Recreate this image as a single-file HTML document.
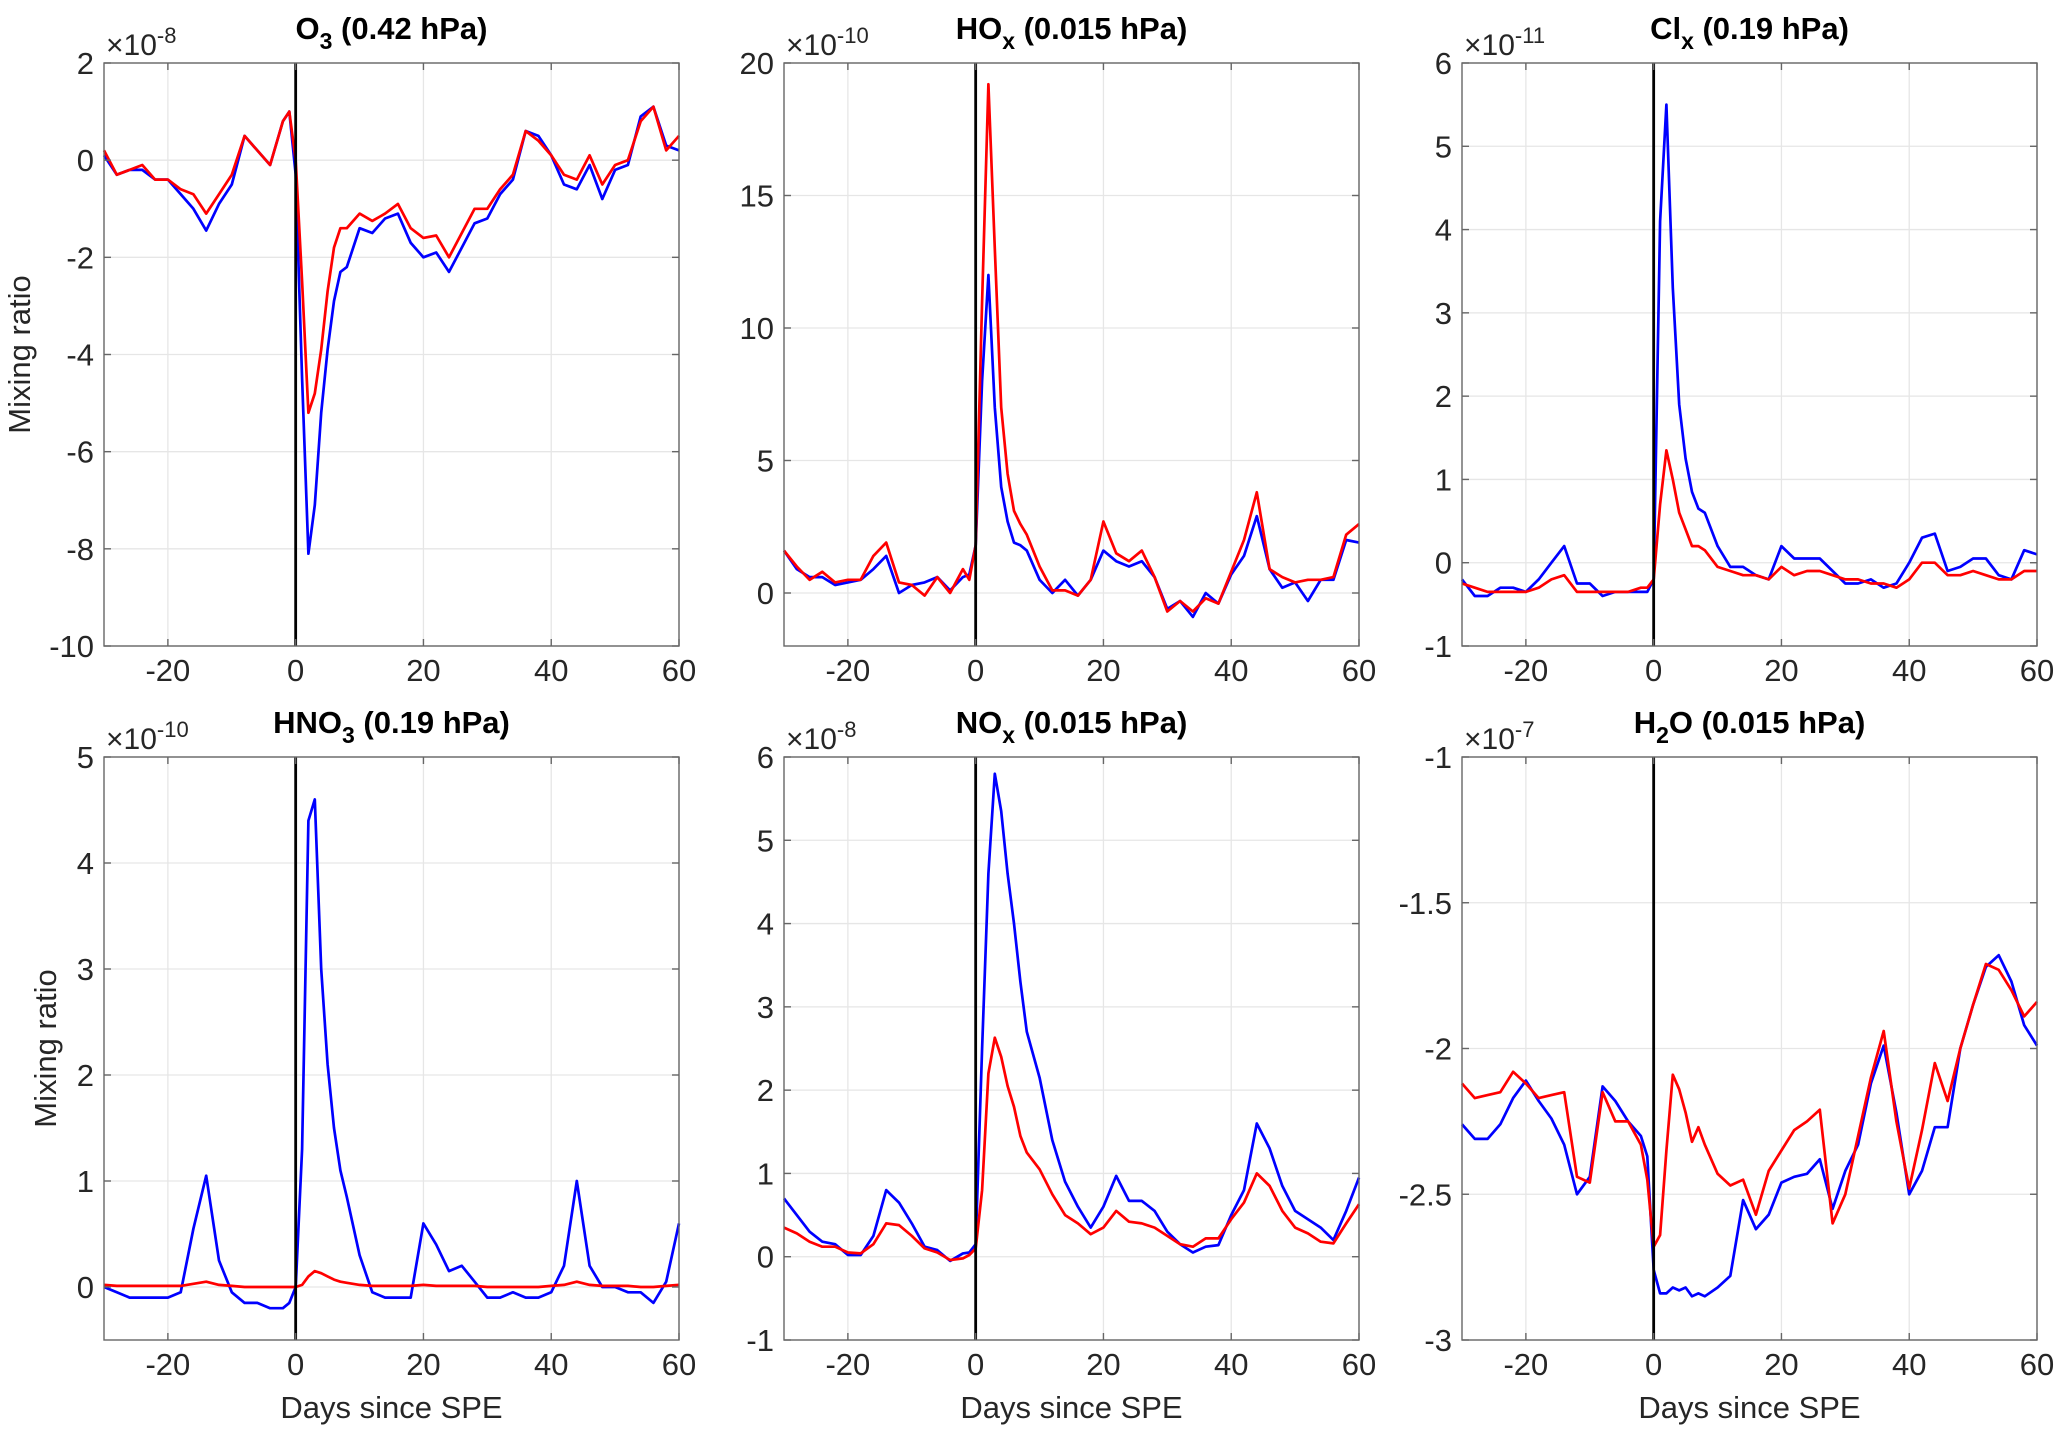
<!DOCTYPE html>
<html><head><meta charset="utf-8"><style>
body{margin:0;background:#fff;}
svg{display:block;font-family:"Liberation Sans",Arial,sans-serif;}
</style></head><body>
<svg id="fig" width="2067" height="1436" viewBox="0 0 2067 1436"></svg>
<script>
const days = [-30,-28,-26,-24,-22,-20,-18,-16,-14,-12,-10,-8,-6,-4,-2,-1,0,1,2,3,4,5,6,7,8,10,12,14,16,18,20,22,24,26,28,30,32,34,36,38,40,42,44,46,48,50,52,54,56,58,60];
const xTicks = [-20,0,20,40,60];

const o3Blue = [0.1,-0.3,-0.2,-0.2,-0.4,-0.4,-0.7,-1.0,-1.45,-0.9,-0.5,0.5,0.2,-0.1,0.8,1.0,-0.3,-4.5,-8.1,-7.1,-5.2,-3.9,-2.9,-2.3,-2.2,-1.4,-1.5,-1.2,-1.1,-1.7,-2.0,-1.9,-2.3,-1.8,-1.3,-1.2,-0.7,-0.4,0.6,0.5,0.1,-0.5,-0.6,-0.1,-0.8,-0.2,-0.1,0.9,1.1,0.3,0.2];
const o3Red = [0.2,-0.3,-0.2,-0.1,-0.4,-0.4,-0.6,-0.7,-1.1,-0.7,-0.3,0.5,0.2,-0.1,0.8,1.0,0.0,-2.5,-5.2,-4.8,-3.9,-2.7,-1.8,-1.4,-1.4,-1.1,-1.25,-1.1,-0.9,-1.4,-1.6,-1.55,-2.0,-1.5,-1.0,-1.0,-0.6,-0.3,0.6,0.4,0.1,-0.3,-0.4,0.1,-0.5,-0.1,0.0,0.8,1.1,0.2,0.5];
const hoxBlue = [1.6,0.9,0.6,0.6,0.3,0.4,0.5,0.9,1.4,0.0,0.3,0.4,0.6,0.1,0.6,0.7,1.8,8.0,12.0,7.0,4.0,2.7,1.9,1.8,1.6,0.5,0.0,0.5,-0.1,0.5,1.6,1.2,1.0,1.2,0.6,-0.6,-0.3,-0.9,0.0,-0.4,0.7,1.4,2.9,0.9,0.2,0.4,-0.3,0.5,0.5,2.0,1.9];
const hoxRed = [1.6,1.0,0.5,0.8,0.4,0.5,0.5,1.4,1.9,0.4,0.3,-0.1,0.6,0.0,0.9,0.5,1.8,11.0,19.2,13.0,7.0,4.5,3.1,2.6,2.2,1.0,0.1,0.1,-0.1,0.5,2.7,1.5,1.2,1.6,0.6,-0.7,-0.3,-0.7,-0.2,-0.4,0.8,2.0,3.8,0.9,0.6,0.4,0.5,0.5,0.6,2.2,2.6];
const clxBlue = [-0.2,-0.4,-0.4,-0.3,-0.3,-0.35,-0.2,0.0,0.2,-0.25,-0.25,-0.4,-0.35,-0.35,-0.35,-0.35,-0.2,4.1,5.5,3.3,1.9,1.25,0.85,0.65,0.6,0.2,-0.05,-0.05,-0.15,-0.2,0.2,0.05,0.05,0.05,-0.1,-0.25,-0.25,-0.2,-0.3,-0.25,0.0,0.3,0.35,-0.1,-0.05,0.05,0.05,-0.15,-0.2,0.15,0.1];
const clxRed = [-0.25,-0.3,-0.35,-0.35,-0.35,-0.35,-0.3,-0.2,-0.15,-0.35,-0.35,-0.35,-0.35,-0.35,-0.3,-0.3,-0.2,0.7,1.35,1.0,0.6,0.4,0.2,0.2,0.15,-0.05,-0.1,-0.15,-0.15,-0.2,-0.05,-0.15,-0.1,-0.1,-0.15,-0.2,-0.2,-0.25,-0.25,-0.3,-0.2,0.0,0.0,-0.15,-0.15,-0.1,-0.15,-0.2,-0.2,-0.1,-0.1];
const hno3Blue = [0.0,-0.05,-0.1,-0.1,-0.1,-0.1,-0.05,0.55,1.05,0.25,-0.05,-0.15,-0.15,-0.2,-0.2,-0.15,0.0,1.3,4.4,4.6,3.0,2.1,1.5,1.1,0.85,0.3,-0.05,-0.1,-0.1,-0.1,0.6,0.4,0.15,0.2,0.05,-0.1,-0.1,-0.05,-0.1,-0.1,-0.05,0.2,1.0,0.2,0.0,0.0,-0.05,-0.05,-0.15,0.05,0.6];
const hno3Red = [0.02,0.01,0.01,0.01,0.01,0.01,0.01,0.03,0.05,0.02,0.01,0.0,0.0,0.0,0.0,0.0,0.0,0.02,0.1,0.15,0.13,0.1,0.07,0.05,0.04,0.02,0.01,0.01,0.01,0.01,0.02,0.01,0.01,0.01,0.01,0.0,0.0,0.0,0.0,0.0,0.01,0.02,0.05,0.02,0.01,0.01,0.01,0.0,0.0,0.01,0.02];
const noxBlue = [0.7,0.5,0.3,0.18,0.15,0.02,0.02,0.25,0.8,0.65,0.4,0.12,0.08,-0.05,0.04,0.05,0.15,2.5,4.6,5.8,5.35,4.6,4.0,3.3,2.7,2.15,1.4,0.9,0.6,0.35,0.6,0.97,0.67,0.67,0.55,0.3,0.15,0.05,0.12,0.14,0.5,0.8,1.6,1.3,0.85,0.55,0.45,0.35,0.2,0.55,0.95];
const noxRed = [0.35,0.28,0.18,0.12,0.12,0.05,0.04,0.15,0.4,0.38,0.25,0.1,0.05,-0.04,-0.02,0.02,0.1,0.8,2.2,2.63,2.4,2.05,1.8,1.45,1.25,1.05,0.75,0.5,0.4,0.27,0.35,0.55,0.42,0.4,0.35,0.25,0.15,0.12,0.22,0.22,0.45,0.65,1.0,0.85,0.55,0.35,0.28,0.18,0.16,0.4,0.63];
const h2oBlue = [-2.26,-2.31,-2.31,-2.26,-2.17,-2.11,-2.18,-2.24,-2.33,-2.5,-2.44,-2.13,-2.18,-2.25,-2.30,-2.37,-2.76,-2.84,-2.84,-2.82,-2.83,-2.82,-2.85,-2.84,-2.85,-2.82,-2.78,-2.52,-2.62,-2.57,-2.46,-2.44,-2.43,-2.38,-2.55,-2.42,-2.33,-2.12,-1.99,-2.22,-2.50,-2.42,-2.27,-2.27,-2.0,-1.85,-1.72,-1.68,-1.77,-1.92,-1.99];
const h2oRed = [-2.12,-2.17,-2.16,-2.15,-2.08,-2.12,-2.17,-2.16,-2.15,-2.44,-2.46,-2.15,-2.25,-2.25,-2.33,-2.45,-2.68,-2.64,-2.35,-2.09,-2.14,-2.22,-2.32,-2.27,-2.33,-2.43,-2.47,-2.45,-2.57,-2.42,-2.35,-2.28,-2.25,-2.21,-2.60,-2.50,-2.3,-2.1,-1.94,-2.25,-2.48,-2.28,-2.05,-2.18,-2.0,-1.85,-1.71,-1.73,-1.80,-1.89,-1.84];

const o3Ticks = [-10,-8,-6,-4,-2,0,2];
const hoxTicks = [0,5,10,15,20];
const clxTicks = [-1,0,1,2,3,4,5,6];
const hno3Ticks = [0,1,2,3,4,5];
const noxTicks = [-1,0,1,2,3,4,5,6];
const h2oTicks = [-3,-2.5,-2,-1.5,-1];

const NS = "http://www.w3.org/2000/svg";
const svg = document.getElementById('fig');
function mk(tag, attrs, parent){
  const e = document.createElementNS(NS, tag);
  for (const k in attrs) e.setAttribute(k, attrs[k]);
  (parent||svg).appendChild(e);
  return e;
}

const panels = [
  {key:'o3', title:['O','3',' (0.42 hPa)'], exp:'-8', L:104, T:63, ylim:[-10,2], ticks:o3Ticks, blue:o3Blue, red:o3Red, ylab:true, xlab:false},
  {key:'hox', title:['HO','x',' (0.015 hPa)'], exp:'-10', L:784, T:63, ylim:[-2,20], ticks:hoxTicks, blue:hoxBlue, red:hoxRed, ylab:false, xlab:false},
  {key:'clx', title:['Cl','x',' (0.19 hPa)'], exp:'-11', L:1462, T:63, ylim:[-1,6], ticks:clxTicks, blue:clxBlue, red:clxRed, ylab:false, xlab:false},
  {key:'hno3', title:['HNO','3',' (0.19 hPa)'], exp:'-10', L:104, T:757, ylim:[-0.5,5], ticks:hno3Ticks, blue:hno3Blue, red:hno3Red, ylab:true, xlab:true},
  {key:'nox', title:['NO','x',' (0.015 hPa)'], exp:'-8', L:784, T:757, ylim:[-1,6], ticks:noxTicks, blue:noxBlue, red:noxRed, ylab:false, xlab:true},
  {key:'h2o', title:['H','2','O (0.015 hPa)'], exp:'-7', L:1462, T:757, ylim:[-3,-1], ticks:h2oTicks, blue:h2oBlue, red:h2oRed, ylab:false, xlab:true}
];
const W = 575, H = 583;

panels.forEach(p => {
  const g = mk('g', {});
  
  
  const xs = d => p.L + (d + 30) / 90 * W;
  const ys = v => p.T + H - (v - p.ylim[0]) / (p.ylim[1] - p.ylim[0]) * H;
  mk('rect', {x:p.L, y:p.T, width:W, height:H, fill:'#fff'}, g);
  xTicks.forEach(t => {
    const gl = mk('line', {x1:xs(t), x2:xs(t), y1:p.T, y2:p.T+H, stroke:'#e6e6e6', 'stroke-width':1.3}, g);
    
    
  });
  p.ticks.forEach(t => {
    const gl = mk('line', {x1:p.L, x2:p.L+W, y1:ys(t), y2:ys(t), stroke:'#e6e6e6', 'stroke-width':1.3}, g);
    
    
  });
  const path = arr => arr.map((v,i) => (i?'L':'M') + xs(days[i]).toFixed(1) + ',' + ys(v).toFixed(1)).join(' ');
  const bl = mk('path', {d:path(p.blue), fill:'none', stroke:'#0000ff', 'stroke-width':2.7, 'stroke-linejoin':'round'}, g);
  
  
  const rl = mk('path', {d:path(p.red), fill:'none', stroke:'#ff0000', 'stroke-width':2.7, 'stroke-linejoin':'round'}, g);
  
  
  const zl = mk('line', {x1:xs(0), x2:xs(0), y1:p.T, y2:p.T+H, stroke:'#000', 'stroke-width':2.8}, g);
  
  
  const bx = mk('rect', {x:p.L, y:p.T, width:W, height:H, fill:'none', stroke:'#666', 'stroke-width':1.4}, g);
  
  
  xTicks.forEach(t => {
    mk('line', {x1:xs(t), x2:xs(t), y1:p.T+H, y2:p.T+H-7, stroke:'#666', 'stroke-width':1.4}, g);
    mk('line', {x1:xs(t), x2:xs(t), y1:p.T, y2:p.T+7, stroke:'#666', 'stroke-width':1.4}, g);
    const tl = mk('text', {x:xs(t), y:p.T+H+35, 'text-anchor':'middle', 'font-size':31, fill:'#262626'}, g);
    tl.textContent = t;
    
    
  });
  p.ticks.forEach(t => {
    mk('line', {x1:p.L, x2:p.L+7, y1:ys(t), y2:ys(t), stroke:'#666', 'stroke-width':1.4}, g);
    mk('line', {x1:p.L+W, x2:p.L+W-7, y1:ys(t), y2:ys(t), stroke:'#666', 'stroke-width':1.4}, g);
    const tl = mk('text', {x:p.L-10, y:ys(t)+11, 'text-anchor':'end', 'font-size':31, fill:'#262626'}, g);
    tl.textContent = t;
    
    
  });
  const ex = mk('text', {x:p.L+2, y:p.T-8, 'font-size':30, fill:'#262626'}, g);
  
  
  const e1 = mk('tspan', {}, ex); e1.textContent = '\u00d710';
  const e2 = mk('tspan', {dy:-12, 'font-size':22}, ex); e2.textContent = p.exp;
  const tt = mk('text', {x:p.L+W/2, y:p.T-24, 'text-anchor':'middle', 'font-size':31, 'font-weight':'bold', fill:'#000'}, g);
  
  
  const t1 = mk('tspan', {}, tt); t1.textContent = p.title[0];
  const t2 = mk('tspan', {dy:10, 'font-size':23}, tt); t2.textContent = p.title[1];
  const t3 = mk('tspan', {dy:-10}, tt); t3.textContent = p.title[2];
  if (p.ylab) {
    const cx = p.key === 'o3' ? 30 : 56;
    const yl = mk('text', {x:cx, y:p.T+H/2, 'text-anchor':'middle', 'font-size':31, fill:'#262626', transform:`rotate(-90 ${cx} ${p.T+H/2})`}, g);
    yl.textContent = 'Mixing ratio';
    
    
  }
  if (p.xlab) {
    const xl = mk('text', {x:p.L+W/2, y:p.T+H+78, 'text-anchor':'middle', 'font-size':31, fill:'#262626'}, g);
    xl.textContent = 'Days since SPE';
    
    
  }
});
</script>
</body></html>
